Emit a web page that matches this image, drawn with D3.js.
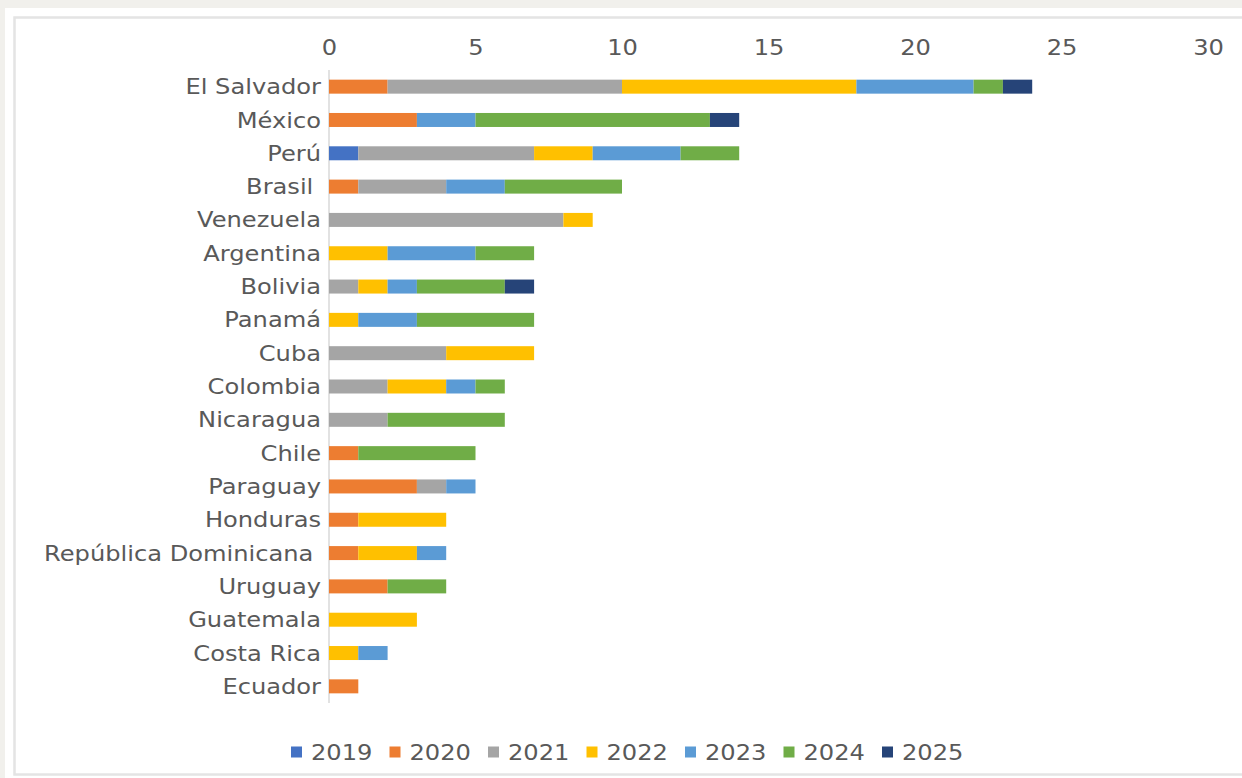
<!DOCTYPE html>
<html>
<head>
<meta charset="utf-8">
<script src="https://cdn.jsdelivr.net/npm/d3@7"></script>
<style>
  html, body { margin: 0; padding: 0; background: #f1f0ec; }
  svg { display: block; }
  text { font-family: "DejaVu Sans", Verdana, sans-serif; fill: #595959; white-space: pre; }
</style>
</head>
<body>
<svg id="chart" width="1242" height="778"></svg>
<script>
// Countries, top to bottom
const countries = [
  "El Salvador", "México", "Perú", "Brasil ", "Venezuela", "Argentina", "Bolivia",
  "Panamá", "Cuba", "Colombia", "Nicaragua", "Chile", "Paraguay", "Honduras",
  "República Dominicana ", "Uruguay", "Guatemala", "Costa Rica", "Ecuador"
];

// Year series (one value per country, same order as above)
const years = ["2019", "2020", "2021", "2022", "2023", "2024", "2025"];
const v2019 = [0, 0, 1, 0, 0, 0, 0, 0, 0, 0, 0, 0, 0, 0, 0, 0, 0, 0, 0];
const v2020 = [2, 3, 0, 1, 0, 0, 0, 0, 0, 0, 0, 1, 3, 1, 1, 2, 0, 0, 1];
const v2021 = [8, 0, 6, 3, 8, 0, 1, 0, 4, 2, 2, 0, 1, 0, 0, 0, 0, 0, 0];
const v2022 = [8, 0, 2, 0, 1, 2, 1, 1, 3, 2, 0, 0, 0, 3, 2, 0, 3, 1, 0];
const v2023 = [4, 2, 3, 2, 0, 3, 1, 2, 0, 1, 0, 0, 1, 0, 1, 0, 0, 1, 0];
const v2024 = [1, 8, 2, 4, 0, 2, 3, 4, 0, 1, 4, 4, 0, 0, 0, 2, 0, 0, 0];
const v2025 = [1, 1, 0, 0, 0, 0, 1, 0, 0, 0, 0, 0, 0, 0, 0, 0, 0, 0, 0];
const seriesValues = [v2019, v2020, v2021, v2022, v2023, v2024, v2025];
const colors = ["#4472C4", "#ED7D31", "#A5A5A5", "#FFC000", "#5B9BD5", "#70AD47", "#264478"];
const tickValues = [0, 5, 10, 15, 20, 25, 30];

const FONT = "'DejaVu Sans', Verdana, sans-serif";
const FONT_SIZE = 21;
const WIDEN = "scale(1.15,1)";   // slightly expanded lettering

const svg = d3.select("#chart");

// White panel with its soft border
svg.append("rect").attr("x", 5).attr("y", 8).attr("width", 1237).attr("height", 770).attr("fill", "#ffffff");
svg.append("rect").attr("x", 14.5).attr("y", 17.5).attr("width", 1240).attr("height", 757)
  .attr("fill", "#ffffff").attr("stroke", "#e4e4e4").attr("stroke-width", 2.5);

// Table rows for the stack
const rows = countries.map((c, i) => {
  const r = { country: c };
  years.forEach((y, k) => { r[y] = seriesValues[k][i]; });
  return r;
});
const stacked = d3.stack().keys(years)(rows);

const x = d3.scaleLinear().domain([0, 30]).range([329, 1208]);
const y = d3.scaleBand().domain(countries).range([70, 703]).paddingInner(0.58).paddingOuter(0.29);
const color = d3.scaleOrdinal().domain(years).range(colors);

// Top value axis (labels only)
const xAxis = svg.append("g").attr("transform", "translate(0,47)")
  .call(d3.axisTop(x).tickValues(tickValues).tickSize(0).tickPadding(0));
xAxis.select(".domain").remove();
xAxis.selectAll("text").attr("font-size", FONT_SIZE).attr("fill", "#595959")
  .attr("dy", "0.36em").attr("transform", WIDEN).style("font-family", FONT);

// Category axis line
svg.append("line").attr("x1", x(0)).attr("x2", x(0)).attr("y1", 70).attr("y2", 703)
  .attr("stroke", "#d9d9d9").attr("stroke-width", 1.5);

// Stacked bars
svg.append("g").selectAll("g").data(stacked).join("g")
  .attr("fill", d => color(d.key))
  .selectAll("rect").data(d => d.filter(s => s[1] > s[0])).join("rect")
  .attr("x", d => x(d[0]))
  .attr("width", d => x(d[1]) - x(d[0]))
  .attr("y", d => y(d.data.country))
  .attr("height", y.bandwidth());

// Category labels
const yAxis = svg.append("g").attr("transform", `translate(${x(0) - 8},0)`)
  .call(d3.axisLeft(y).tickSize(0).tickPadding(0));
yAxis.select(".domain").remove();
yAxis.selectAll("text").attr("font-size", FONT_SIZE).attr("fill", "#595959")
  .attr("x", 0).attr("dy", "0.36em").attr("transform", WIDEN)
  .style("font-family", FONT).style("white-space", "pre");

// Legend
const legend = svg.append("g").attr("transform", "translate(291,752)");
const item = legend.selectAll("g").data(years).join("g")
  .attr("transform", (d, i) => `translate(${i * 98.5},0)`);
item.append("rect").attr("x", 0).attr("y", -5.5).attr("width", 11).attr("height", 11)
  .attr("fill", d => color(d));
item.append("g").attr("transform", "translate(20,0)")
  .append("text").attr("dy", "0.36em").attr("transform", WIDEN)
  .attr("font-size", FONT_SIZE).text(d => d);
</script>
</body>
</html>
